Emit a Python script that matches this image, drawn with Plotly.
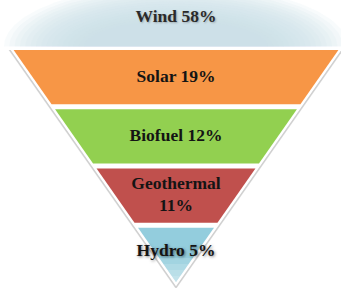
import plotly.graph_objects as go
import numpy as np

# ---- data ----
categories = ["Wind", "Solar", "Biofuel", "Geothermal", "Hydro"]
shares = [58, 19, 12, 11, 5]
band_colors = ["#d3e6ee", "#f79646", "#92d050", "#c0504d", "#93cddd"]

# ---- layout geometry (pixel-like data space) ----
W, H = 341, 288
cx, apex_y, top_y, gap, k = 176.0, 282.0, 50.0, 5.0, 0.70
n_bands = len(categories) - 1
band_h = (apex_y - top_y - gap * (n_bands - 1)) / n_bands

def half_w(y, apex=apex_y):
    return k * (apex - y)

fig = go.Figure()

# wind glow: stacked half ellipses
wind_base = 46.5
n_glow = 16
for i in range(n_glow):
    f = i / (n_glow - 1)
    rx = 172 - 80 * f
    ry = 62 - 36 * f
    t = np.linspace(np.pi, 2 * np.pi, 100)
    xs = list(cx + rx * np.cos(t)) + [cx + rx, cx - rx]
    ys = list(wind_base + ry * np.sin(t)) + [wind_base, wind_base]
    fig.add_trace(go.Scatter(x=xs, y=ys, fill="toself", mode="lines", line=dict(width=0),
                             fillcolor="rgba(200,225,234,0.13)", hoverinfo="skip"))

# outer shadow and white rim
for off, col in [(7.0, "rgba(170,170,170,0.5)"), (5.5, "rgba(200,200,200,0.6)"), (4.2, "#ffffff")]:
    a = apex_y + off
    xs = [cx - half_w(top_y, a), cx + half_w(top_y, a), cx, cx - half_w(top_y, a)]
    ys = [top_y, top_y, a, top_y]
    fig.add_trace(go.Scatter(x=xs, y=ys, fill="toself", mode="lines", line=dict(width=0),
                             fillcolor=col, hoverinfo="skip"))

# bands
label_x, label_y = [], []
for i in range(n_bands):
    y0 = top_y + i * (band_h + gap)
    y1 = y0 + band_h
    xs = [cx - half_w(y0), cx + half_w(y0), cx + half_w(y1), cx - half_w(y1), cx - half_w(y0)]
    ys = [y0, y0, y1, y1, y0]
    fig.add_trace(go.Scatter(x=xs, y=ys, fill="toself", mode="lines", line=dict(width=0),
                             fillcolor=band_colors[i + 1], hoverinfo="skip"))
    label_x.append(cx)
    label_y.append((y0 + y1) / 2 - (3 if i == n_bands - 1 else 0))

# fade near apex
for yy in [258, 264, 270, 276]:
    xs = [cx - half_w(yy), cx + half_w(yy), cx, cx - half_w(yy)]
    fig.add_trace(go.Scatter(x=xs, y=[yy, yy, apex_y, yy], fill="toself", mode="lines",
                             line=dict(width=0), fillcolor="rgba(255,255,255,0.14)", hoverinfo="skip"))

# labels
texts = []
for c, s in zip(categories, shares):
    if c == "Geothermal":
        texts.append(f"{c}<br>{s}%")
    else:
        texts.append(f"{c} {s}%")

fnt = dict(family="Liberation Serif", size=17.5, color="#141414", weight="bold")
fig.add_trace(go.Scatter(x=[cx], y=[18], mode="text", text=[texts[0]],
                         textfont=dict(fnt, color="#2a2a2a", shadow="1px 1px 2px rgba(0,0,0,0.25)"),
                         hoverinfo="skip"))
fig.add_trace(go.Scatter(x=label_x[:-1], y=label_y[:-1], mode="text", text=texts[1:-1],
                         textfont=fnt, hoverinfo="skip"))
fig.add_trace(go.Scatter(x=[label_x[-1]], y=[label_y[-1]], mode="text", text=[texts[-1]],
                         textfont=dict(fnt, shadow="1px 1px 3px rgba(0,0,0,0.5)"),
                         hoverinfo="skip"))

fig.update_layout(
    width=W, height=H, margin=dict(l=0, r=0, t=0, b=0),
    paper_bgcolor="white", plot_bgcolor="white", showlegend=False,
    xaxis=dict(range=[0, W], visible=False, fixedrange=True),
    yaxis=dict(range=[H, 0], visible=False, fixedrange=True),
)
fig.write_html("out.html", config={"displayModeBar": False},
               post_script="document.body.style.margin='0';document.body.style.overflow='hidden';")
